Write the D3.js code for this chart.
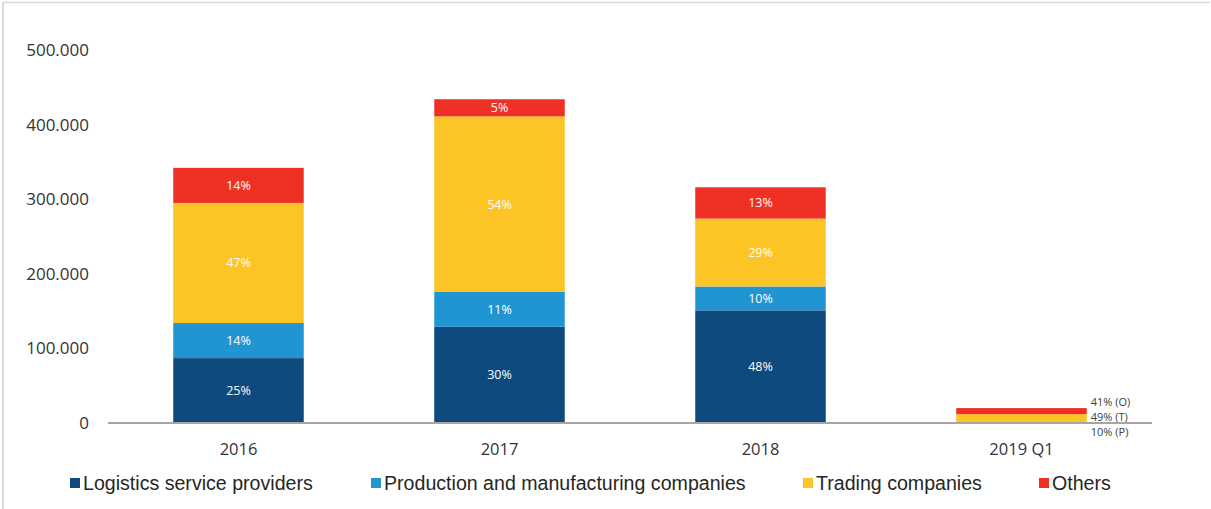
<!DOCTYPE html>
<html>
<head>
<meta charset="utf-8">
<script src="https://cdn.jsdelivr.net/npm/d3@7"></script>
<style>
  html, body { margin: 0; padding: 0; background: #fff; }
  svg { display: block; }
</style>
</head>
<body>
<svg id="chart" width="1211" height="509"></svg>
<script>
// ---- data ----
const categories = ["2016", "2017", "2018", "2019 Q1"];
const seriesNames = ["Logistics service providers", "Production and manufacturing companies", "Trading companies", "Others"];
const logistics  = [87000, 129000, 151000, 0];
const production = [47000, 47000, 32000, 2000];
const trading    = [161000, 235000, 91000, 9800];
const others     = [47000, 23000, 42000, 8200];
const pctLogistics  = ["25%", "30%", "48%", ""];
const pctProduction = ["14%", "11%", "10%", ""];
const pctTrading    = ["47%", "54%", "29%", ""];
const pctOthers     = ["14%", "5%", "13%", ""];
const outsideLabels = ["41% (O)", "49% (T)", "10% (P)"];
const yTicks = [0, 100000, 200000, 300000, 400000, 500000];
const yTickLabels = ["0", "100.000", "200.000", "300.000", "400.000", "500.000"];

const colors = ["#0e4a7e", "#2195d1", "#fdc425", "#ee3124"];

// ---- build ----
const svg = d3.select("#chart");
const W = 1211, H = 509;

// frame lines
svg.append("line").attr("x1", 3).attr("x2", 3).attr("y1", 2).attr("y2", H)
  .attr("stroke", "#d9d9d9").attr("stroke-width", 2);
svg.append("line").attr("x1", 3).attr("x2", 1210).attr("y1", 2.5).attr("y2", 2.5)
  .attr("stroke", "#d9d9d9").attr("stroke-width", 1.5);

const x = d3.scaleBand().domain(categories).range([108, 1152]).paddingInner(0.5).paddingOuter(0.25);
const y = d3.scaleLinear().domain([0, 500000]).range([423, 50]);

const seriesValues = [logistics, production, trading, others];
const seriesPct = [pctLogistics, pctProduction, pctTrading, pctOthers];
const table = categories.map((c, i) => {
  const row = { cat: c };
  seriesNames.forEach((s, k) => row[s] = seriesValues[k][i]);
  return row;
});
const stack = d3.stack().keys(seriesNames)(table);

const gBars = svg.append("g");
stack.forEach((layer, k) => {
  gBars.selectAll(null).data(layer).enter().append("rect")
    .attr("x", d => x(d.data.cat))
    .attr("width", x.bandwidth())
    .attr("y", d => y(d[1]))
    .attr("height", d => Math.max(0, y(d[0]) - y(d[1])))
    .attr("fill", colors[k]);
  gBars.selectAll(null).data(layer).enter().append("text")
    .filter((d, i) => seriesPct[k][i] !== "")
    .attr("x", d => x(d.data.cat) + x.bandwidth() / 2)
    .attr("y", d => (y(d[0]) + y(d[1])) / 2)
    .attr("dy", "0.36em")
    .attr("text-anchor", "middle")
    .attr("fill", "#ffffff")
    .attr("font-family", "'Open Sans', sans-serif")
    .attr("font-size", 12.5)
    .text((d, i) => seriesPct[k][categories.indexOf(d.data.cat)]);
});

// outside labels for 2019 Q1
const lastCat = categories[categories.length - 1];
const lastIdx = categories.length - 1;
const topLast = y(stack[stack.length - 1][lastIdx][1]);
svg.append("g").selectAll("text").data(outsideLabels).enter().append("text")
  .attr("x", x(lastCat) + x.bandwidth() + 4)
  .attr("y", (d, i) => topLast - 6.5 + i * 15)
  .attr("dy", "0.36em")
  .attr("fill", "#404040")
  .attr("font-family", "'Open Sans', sans-serif")
  .attr("font-size", 11)
  .text(d => d);

// x axis
const xAxis = svg.append("g").attr("transform", `translate(0,${y(0)})`)
  .call(d3.axisBottom(x).tickSize(0).tickPadding(20));
xAxis.select(".domain").attr("stroke", "#a6a6a6").attr("stroke-width", 2)
  .attr("d", "M108,0H1152");
xAxis.selectAll("text").attr("font-family", "'Open Sans', sans-serif").attr("font-size", 16.5).attr("fill", "#333");

// y axis
const yAxis = svg.append("g").attr("transform", "translate(89,0)")
  .call(d3.axisLeft(y).tickValues(yTicks).tickFormat((d, i) => yTickLabels[i]).tickSize(0).tickPadding(0));
yAxis.select(".domain").remove();
yAxis.selectAll("text").attr("font-family", "'Open Sans', sans-serif").attr("font-size", 17).attr("fill", "#333");

// legend
const legendX = [70, 371, 803, 1039];
const lg = svg.append("g");
seriesNames.forEach((s, k) => {
  lg.append("rect").attr("x", legendX[k]).attr("y", 478).attr("width", 10).attr("height", 10).attr("fill", colors[k]);
  lg.append("text").attr("x", legendX[k] + 13).attr("y", 490)
    .attr("font-family", "'Liberation Sans', Arial, sans-serif").attr("font-size", 19.6).attr("fill", "#262626")
    .text(s);
});
</script>
</body>
</html>
